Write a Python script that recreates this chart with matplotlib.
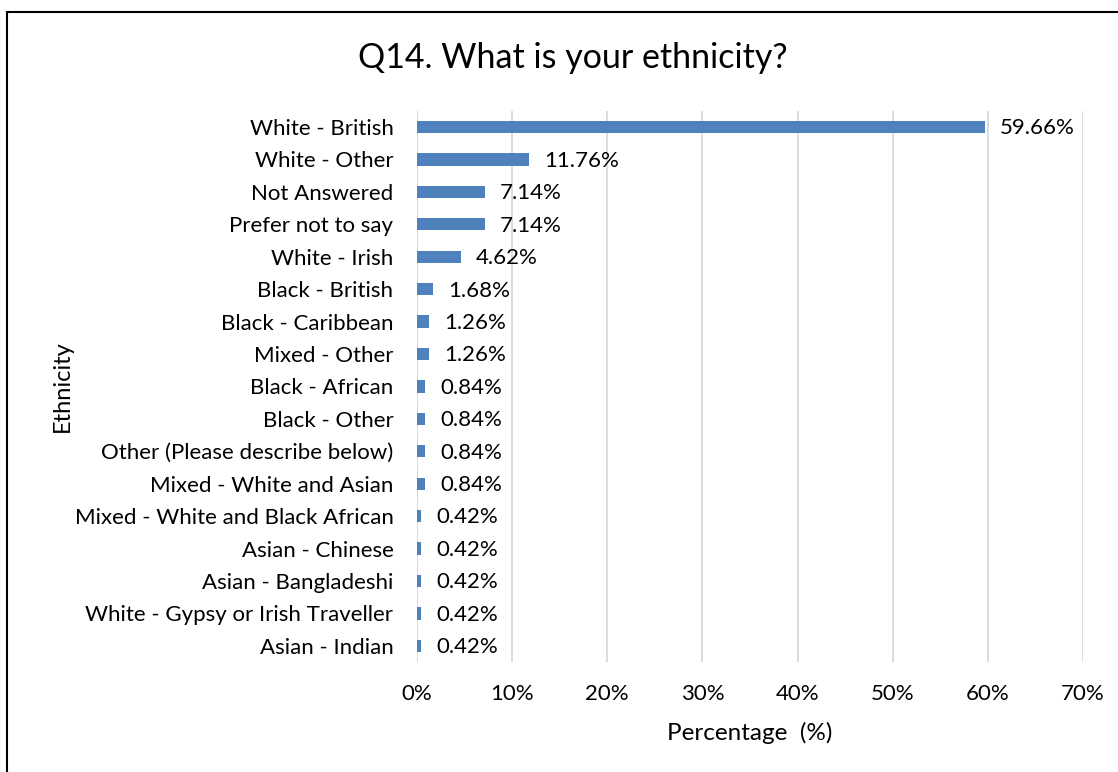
import matplotlib.pyplot as plt
from matplotlib.patches import Rectangle
from matplotlib.ticker import FuncFormatter

# Data (top to bottom as shown)
categories = [
    'White - British', 'White - Other', 'Not Answered', 'Prefer not to say',
    'White - Irish', 'Black - British', 'Black - Caribbean', 'Mixed - Other',
    'Black - African', 'Black - Other', 'Other (Please describe below)',
    'Mixed - White and Asian', 'Mixed - White and Black African',
    'Asian - Chinese', 'Asian - Bangladeshi', 'White - Gypsy or Irish Traveller',
    'Asian - Indian',
]
percentages = [59.66, 11.76, 7.14, 7.14, 4.62, 1.68, 1.26, 1.26,
               0.84, 0.84, 0.84, 0.84, 0.42, 0.42, 0.42, 0.42, 0.42]
x_ticks = [0, 10, 20, 30, 40, 50, 60, 70]

plt.rcParams['font.family'] = ['Lato', 'DejaVu Sans']

W, H = 1118, 772
fig = plt.figure(figsize=(W / 100, H / 100), dpi=100)
ax = fig.add_axes([417 / W, 1 - 662 / H, (1083 - 417) / W, (662 - 110.8) / H])

ypos = list(range(len(categories)))
ax.barh(ypos, percentages, height=0.38, color='#4F81BD', zorder=3)
for y, v in zip(ypos, percentages):
    ax.annotate(f'{v:.2f}%', (v, y), xytext=(11, -1), textcoords='offset points',
                va='center', ha='left', fontsize=16, color='#000000')

ax.set_ylim(len(categories) - 0.5, -0.5)
ax.set_xlim(0, 70)
ax.set_xticks(x_ticks)
ax.xaxis.set_major_formatter(FuncFormatter(lambda v, p: f'{v:.0f}%'))
ax.set_yticks(ypos)
ax.set_yticklabels(categories)
ax.tick_params(axis='both', length=0, labelsize=16)
ax.tick_params(axis='x', pad=15.5)
ax.tick_params(axis='y', pad=17)
ax.grid(axis='x', color='#D9D9D9', linewidth=1.3, zorder=0)
for s in ax.spines.values():
    s.set_visible(False)
ax.axvline(0, color='#D9D9D9', linewidth=1.3, zorder=1)

ax.set_xlabel('Percentage  (%)', fontsize=17.5, labelpad=13.5)
fig.text(62 / W, 1 - 386 / H, 'Ethnicity', rotation=90, fontsize=17,
         ha='center', va='center')
fig.text(573 / W, 1 - 58.5 / H, 'Q14. What is your ethnicity?', fontsize=24.5,
         ha='center', va='center')

# chart frame (cropped on right and bottom)
fig.patches.append(Rectangle((7 / W, -0.1), 1.2, 1 - 12 / H + 0.1,
                             transform=fig.transFigure, fill=False,
                             edgecolor='black', linewidth=1.5))

fig.savefig('out.png', dpi=100)
